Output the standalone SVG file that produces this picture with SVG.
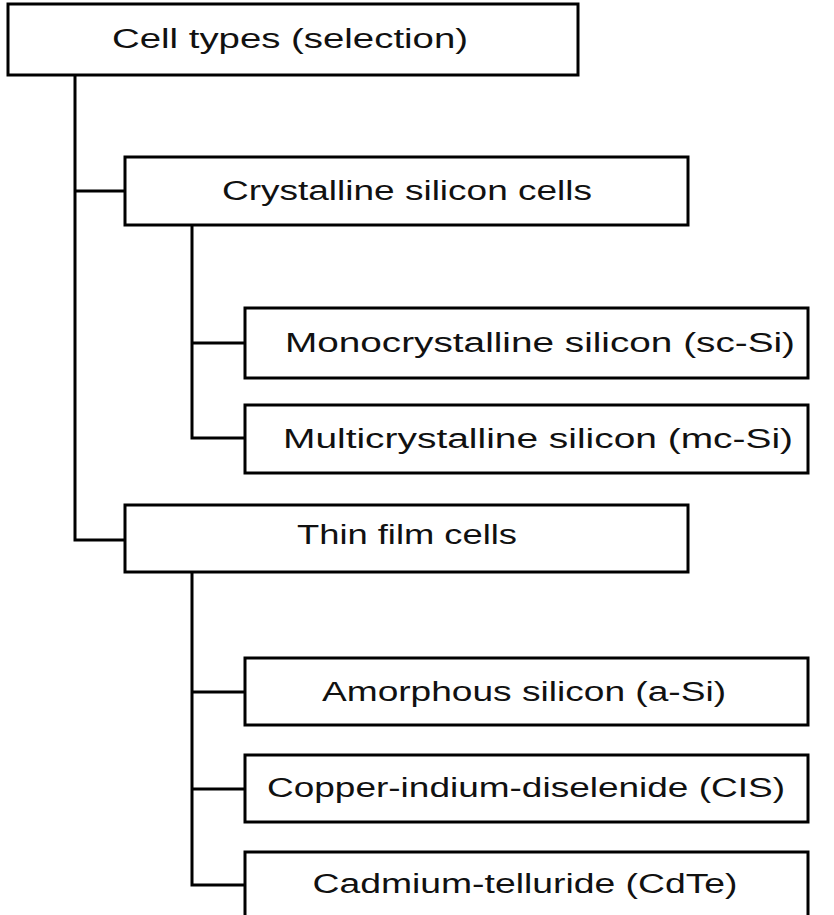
<svg xmlns="http://www.w3.org/2000/svg" width="834" height="915" viewBox="0 0 834 915">
<style>
rect{fill:#fff;stroke:#000;stroke-width:3}
text{font-family:"Liberation Sans",Arial,sans-serif;font-size:27px;fill:#111;text-anchor:middle}
#connectors path{fill:none;stroke:#000;stroke-width:3}
</style>
<rect x="0" y="0" width="834" height="915" style="stroke:none"/>
<g id="connectors">
<path d="M75 75V540H125M75 191H125"/>
<path d="M192 225V438H245M192 343H245"/>
<path d="M192 572V885H245M192 692H245M192 789H245"/>
</g>
<g id="n1"><rect x="8" y="4" width="570" height="71"/><text x="290" y="48" textLength="356" lengthAdjust="spacingAndGlyphs">Cell types  (selection)</text></g>
<g id="n2"><rect x="125" y="157" width="563" height="68"/><text x="407" y="200" textLength="370" lengthAdjust="spacingAndGlyphs">Crystalline silicon cells</text></g>
<g id="n3"><rect x="245" y="308" width="563" height="70"/><text x="540" y="352" textLength="510" lengthAdjust="spacingAndGlyphs">Monocrystalline silicon (sc-Si)</text></g>
<g id="n4"><rect x="245" y="405" width="563" height="68"/><text x="538" y="448" textLength="510" lengthAdjust="spacingAndGlyphs">Multicrystalline silicon (mc-Si)</text></g>
<g id="n5"><rect x="125" y="505" width="563" height="67"/><text x="407" y="544" textLength="220" lengthAdjust="spacingAndGlyphs">Thin film cells</text></g>
<g id="n6"><rect x="245" y="658" width="563" height="67"/><text x="524" y="701" textLength="404" lengthAdjust="spacingAndGlyphs">Amorphous silicon (a-Si)</text></g>
<g id="n7"><rect x="245" y="755" width="563" height="67"/><text x="526" y="797" textLength="518" lengthAdjust="spacingAndGlyphs">Copper-indium-diselenide (CIS)</text></g>
<g id="n8"><rect x="245" y="852" width="563" height="70"/><text x="525" y="893" textLength="425" lengthAdjust="spacingAndGlyphs">Cadmium-telluride (CdTe)</text></g>
</svg>
